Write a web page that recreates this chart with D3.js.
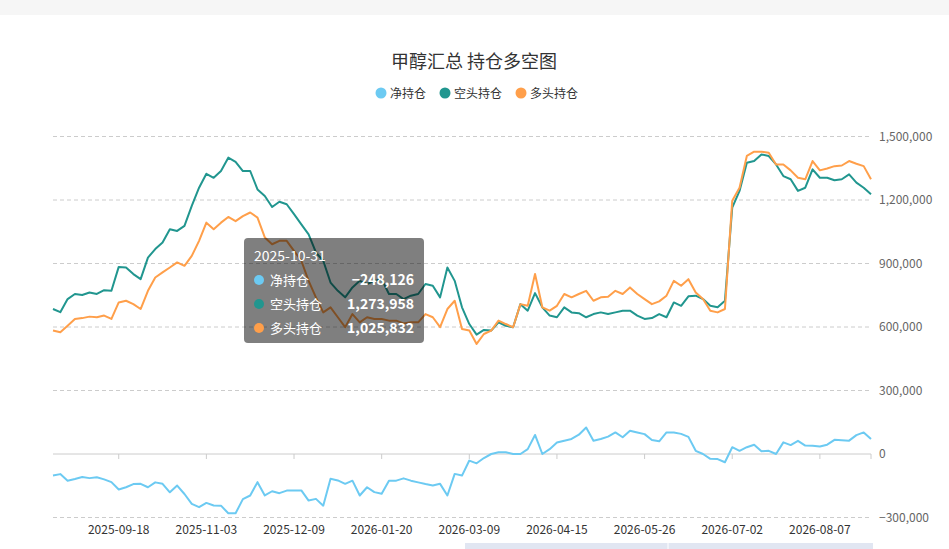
<!DOCTYPE html>
<html>
<head>
<meta charset="utf-8">
<script src="https://cdn.jsdelivr.net/npm/d3@7"></script>
<style>
  body { margin: 0; background: #fff; font-family: "Microsoft YaHei", "Noto Sans CJK SC", sans-serif; }
</style>
</head>
<body>
<div id="chart"></div>
<script>
// 甲醇汇总 持仓数据（单位：手，约每两个交易日一个点）
const shortHold = [685, 670, 732, 756, 751, 763, 756, 774, 771, 884, 881, 850, 826, 928, 968, 999, 1062, 1054, 1078, 1172,
  1258, 1324, 1305, 1337, 1400, 1380, 1337, 1337, 1250, 1219, 1167, 1192, 1180, 1133, 1085, 1038, 952, 913, 810, 771,
  740, 787, 818, 803, 818, 826, 756, 756, 732, 748, 756, 803, 795, 740, 881, 818, 693, 614, 564, 586,
  583, 622, 606, 599, 708, 677, 760, 693, 654, 646, 693, 669, 665, 646, 661, 669, 661, 669, 677, 677,
  654, 638, 642, 661, 646, 716, 700, 745, 748, 732, 700, 693, 724, 1164, 1243, 1376, 1384, 1415, 1408, 1368,
  1313, 1298, 1243, 1258, 1345, 1305, 1305, 1293, 1298, 1321, 1282, 1258, 1227].map(v => v * 1000);
const longHold = [583, 575, 606, 638, 642, 649, 646, 654, 638, 716, 724, 708, 685, 771, 834, 858, 881, 905, 889, 936,
  1007, 1093, 1062, 1093, 1120, 1100, 1124, 1141, 1117, 1023, 991, 1007, 1007, 960, 913, 818, 740, 669, 693, 646,
  599, 661, 622, 646, 638, 638, 630, 630, 617, 622, 622, 661, 646, 599, 685, 724, 591, 583, 520, 567,
  583, 630, 614, 599, 708, 700, 850, 693, 677, 700, 756, 740, 756, 771, 724, 740, 743, 771, 756, 787,
  756, 732, 708, 721, 748, 818, 795, 826, 763, 732, 677, 669, 685, 1196, 1258, 1408, 1428, 1428, 1423, 1368,
  1368, 1340, 1305, 1298, 1384, 1340, 1349, 1360, 1363, 1384, 1371, 1360, 1298].map(v => v * 1000);
// 净持仓 = 多头 - 空头
const netHold = longHold.map((v, i) => v - shortHold[i]);

const tickIndex = [9, 21, 33, 45, 57, 69, 81, 93, 105];
const tickLabels = ['2025-09-18', '2025-11-03', '2025-12-09', '2026-01-20', '2026-03-09',
  '2026-04-15', '2026-05-26', '2026-07-02', '2026-08-07'];
const yTicks = [-300000, 0, 300000, 600000, 900000, 1200000, 1500000];

const series = [
  { name: '净持仓', color: '#6ccaf2', values: netHold },
  { name: '空头持仓', color: '#21968f', values: shortHold },
  { name: '多头持仓', color: '#ff9f4a', values: longHold }
];

const W = 949, H = 549;
const svg = d3.select('#chart').append('svg')
  .attr('width', W)
  .attr('height', H);

svg.append('rect').attr('width', W).attr('height', 15).attr('fill', '#f6f6f6');

const x = d3.scaleLinear().domain([0, shortHold.length - 1]).range([53, 871]);
const y = d3.scaleLinear().domain([-300000, 1500000]).range([517.5, 136.5]);

// 网格线
svg.append('g').selectAll('line')
  .data(yTicks.filter(d => d !== 0))
  .enter().append('line')
  .attr('x1', 53).attr('x2', 871)
  .attr('y1', d => y(d)).attr('y2', d => y(d))
  .attr('stroke', '#ccc').attr('stroke-dasharray', '4,3');

// 右侧Y轴标签
svg.append('g').selectAll('text')
  .data(yTicks)
  .enter().append('text')
  .attr('x', 879).attr('y', d => y(d) + 4)
  .attr('font-size', 12).attr('fill', '#666')
  .text(d => d3.format(',')(d));

// 零轴
svg.append('line').attr('x1', 53).attr('x2', 871)
  .attr('y1', y(0)).attr('y2', y(0)).attr('stroke', '#ccc');
svg.append('g').selectAll('line')
  .data(tickIndex.concat([shortHold.length - 1]))
  .enter().append('line')
  .attr('x1', d => x(d)).attr('x2', d => x(d))
  .attr('y1', y(0)).attr('y2', y(0) + 5).attr('stroke', '#ccc');

svg.append('g').selectAll('text')
  .data(tickIndex)
  .enter().append('text')
  .attr('x', d => x(d)).attr('y', 534)
  .attr('text-anchor', 'middle')
  .attr('font-size', 12).attr('fill', '#333')
  .text((d, i) => tickLabels[i]);

// 折线
const line = d3.line().x((d, i) => x(i)).y(d => y(d));
series.forEach(s => {
  svg.append('path')
    .datum(s.values)
    .attr('fill', 'none')
    .attr('stroke', s.color)
    .attr('stroke-width', 2)
    .attr('stroke-linejoin', 'round')
    .attr('d', line);
});

// 标题
svg.append('text')
  .attr('x', 474).attr('y', 68)
  .attr('text-anchor', 'middle')
  .attr('font-size', 18).attr('fill', '#333')
  .text('甲醇汇总 持仓多空图');

// 图例
const legendX = [381, 445, 521];
series.forEach((s, i) => {
  svg.append('circle').attr('cx', legendX[i]).attr('cy', 93).attr('r', 5.5).attr('fill', s.color);
  svg.append('text').attr('x', legendX[i] + 9).attr('y', 97.5)
    .attr('font-size', 12).attr('fill', '#333').text(s.name);
});

// 提示框
const tip = svg.append('g');
tip.append('rect').attr('x', 244).attr('y', 238).attr('width', 180).attr('height', 105)
  .attr('rx', 4).attr('fill', 'rgba(0,0,0,0.5)');
tip.append('text').attr('x', 254).attr('y', 261).attr('font-size', 14).attr('fill', '#fff').text('2025-10-31');
const tipVals = [-248126, 1273958, 1025832];
series.forEach((s, i) => {
  const ty = 280 + i * 24;
  tip.append('circle').attr('cx', 259).attr('cy', ty).attr('r', 5).attr('fill', s.color);
  tip.append('text').attr('x', 270).attr('y', ty + 5).attr('font-size', 13).attr('fill', '#fff').text(s.name);
  tip.append('text').attr('x', 414).attr('y', ty + 5).attr('text-anchor', 'end')
    .attr('font-size', 14).attr('font-weight', 'bold').attr('fill', '#fff')
    .text(d3.format(',')(tipVals[i]));
});

// 底部缩放条残留
svg.append('rect').attr('x', 465).attr('y', 543).attr('width', 408).attr('height', 6).attr('fill', '#e1e6f2');
svg.append('line').attr('x1', 668).attr('x2', 668).attr('y1', 543).attr('y2', 549).attr('stroke', '#fff');
</script>
</body>
</html>
